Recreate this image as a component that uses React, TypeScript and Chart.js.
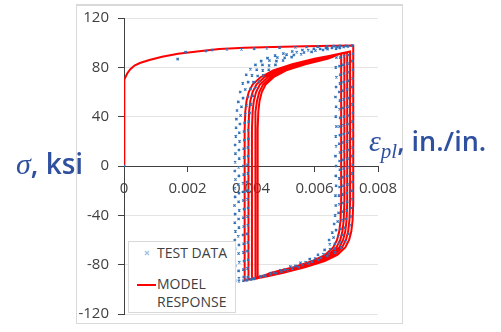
import React, { useEffect, useRef } from 'react';
import { Chart, registerables } from 'chart.js';
Chart.register(...registerables);

type P = [number, number];

// ---- axes ----
const xTicks = [0, 0.002, 0.004, 0.006, 0.008];
const yTicks = [120, 80, 40, 0, -40, -80, -120];
const yLabel = 'σ';
const yUnit = ', ksi';
const xLabel = 'ε';
const xSub = 'pl';
const xUnit = ', in./in.';
const legendTest = 'TEST DATA';
const legendModel = ['MODEL', 'RESPONSE'];

// ---- model response (red line), plastic strain vs stress ----
const modelMonotonic: P[] = [
  [0, 0], [0, 30], [0, 64], [0.00003, 70], [0.0001, 75], [0.0002, 78.5], [0.00033, 81.5],
  [0.0005, 83.5], [0.0008, 86], [0.0012, 88.5], [0.0017, 91], [0.0023, 92.8], [0.003, 94.8],
  [0.0038, 95.8], [0.0047, 96.5], [0.0057, 97], [0.0066, 97.4], [0.00722, 97.6],
];
const modelComp1: P[] = [
  [0.00722, -30], [0.0072, -44], [0.00716, -53], [0.00709, -60], [0.00697, -66], [0.00672, -72],
  [0.00632, -77], [0.00572, -82], [0.00502, -86.5], [0.00452, -89.5], [0.0041, -91.5], [0.0038, -92.5],
];
const modelTens1: P[] = [
  [0.0038, 30], [0.00382, 44], [0.00386, 53], [0.00393, 60], [0.00405, 66], [0.0043, 72],
  [0.0047, 77.5], [0.0053, 82.5], [0.006, 87], [0.0065, 89.5], [0.00712, 92.8],
];
const modelComp2: P[] = [
  [0.00712, -30], [0.0071, -44], [0.00706, -53], [0.00699, -60], [0.00687, -66], [0.00662, -72],
  [0.00622, -77], [0.00562, -82], [0.00492, -86.5], [0.00442, -89.5], [0.00392, -92],
];
const modelTens2: P[] = [
  [0.00392, 30], [0.00394, 44], [0.00398, 53], [0.00405, 60], [0.00417, 66], [0.00442, 72],
  [0.00482, 77.5], [0.00542, 82.5], [0.00612, 87], [0.00662, 89.8], [0.00703, 92.3],
];
const modelComp3: P[] = [
  [0.00703, -30], [0.00701, -44], [0.00697, -53], [0.0069, -60], [0.00678, -66], [0.00653, -72],
  [0.00613, -77], [0.00553, -82], [0.00483, -86.5], [0.00433, -89.5], [0.00403, -91.5],
];
const modelTens3: P[] = [
  [0.00403, 30], [0.00405, 44], [0.00409, 53], [0.00416, 60], [0.00428, 66], [0.00453, 72],
  [0.00493, 77.5], [0.00553, 82.5], [0.00623, 87], [0.00663, 89.5], [0.00694, 91.8],
];
const modelComp4: P[] = [
  [0.00694, -30], [0.00692, -44], [0.00688, -53], [0.00681, -60], [0.00669, -66], [0.00644, -72],
  [0.00604, -77], [0.00544, -82], [0.00474, -86.5], [0.00434, -89.5], [0.00413, -91.2],
];
const modelTens4: P[] = [
  [0.00413, 30], [0.00415, 44], [0.00419, 53], [0.00426, 60], [0.00438, 66], [0.00463, 72],
  [0.00503, 77.5], [0.00563, 82.5], [0.00633, 87], [0.0066, 89], [0.00684, 91.3],
];
const modelComp5: P[] = [
  [0.00684, -30], [0.00682, -44], [0.00678, -53], [0.00671, -60], [0.00659, -66], [0.00634, -72],
  [0.00594, -77], [0.00534, -82], [0.00464, -86.5], [0.0044, -89], [0.00421, -91],
];
const modelTens5: P[] = [
  [0.00421, 30], [0.00423, 44], [0.00427, 53], [0.00434, 60], [0.00446, 66], [0.00471, 72],
  [0.00511, 77.5], [0.00571, 82.5], [0.00641, 87], [0.0066, 88.8], [0.00675, 91],
];

// ---- test data (blue markers) ----
const testMonotonic: P[] = [
  [0, 0], [0.00169, 86.7], [0.00194, 92.3], [0.00258, 93.2], [0.00277, 94], [0.00324, 94.7],
  [0.0037, 94.7], [0.0041, 95.2], [0.0045, 95.5], [0.0049, 96], [0.0054, 96.3], [0.00575, 96.5],
  [0.0061, 96.8], [0.0064, 97], [0.0066, 97.2], [0.0068, 97.4], [0.007, 97.5], [0.00718, 97.6],
];
const testComp1: P[] = [
  [0.00721, 91], [0.00719, 85], [0.00721, 78], [0.0072, 71], [0.00718, 64], [0.0072, 57], [0.00719, 50],
  [0.00721, 43], [0.00719, 36], [0.0072, 29], [0.00718, 22], [0.0072, 15], [0.00719, 8], [0.0072, 1],
  [0.00718, -6], [0.00719, -13], [0.00717, -20], [0.00718, -27], [0.00716, -34], [0.00715, -41],
  [0.00712, -48], [0.00707, -55], [0.00698, -61], [0.00684, -66], [0.00665, -70], [0.0064, -73],
  [0.00612, -76], [0.00582, -79], [0.0055, -82], [0.00515, -84.5], [0.0048, -87], [0.00445, -89],
  [0.00412, -91], [0.00385, -92.5], [0.00362, -93.5], [0.0035, -93],
];
const testTens1: P[] = [
  [0.00349, -88], [0.0035, -81], [0.00348, -74], [0.0035, -67], [0.00349, -60], [0.00351, -53],
  [0.00349, -46], [0.0035, -39], [0.00348, -32], [0.0035, -25], [0.00349, -18], [0.00351, -11],
  [0.00349, -4], [0.0035, 3], [0.00351, 10], [0.0035, 17], [0.00352, 24], [0.00353, 31], [0.00354, 38],
  [0.00356, 45], [0.0036, 52], [0.00366, 60], [0.00374, 67], [0.00385, 74], [0.00398, 78.5],
  [0.00414, 82], [0.00432, 85], [0.00452, 87.5], [0.00476, 89.5], [0.00502, 91.2], [0.0053, 92.8],
  [0.00562, 94], [0.00598, 95], [0.00636, 95.8], [0.00672, 96.4], [0.00705, 96.9],
];
const testComp2: P[] = [
  [0.00706, 90], [0.00704, 83], [0.00706, 76], [0.00705, 69], [0.00703, 62], [0.00705, 55],
  [0.00704, 48], [0.00706, 41], [0.00704, 34], [0.00705, 27], [0.00703, 20], [0.00705, 13],
  [0.00704, 6], [0.00705, -1], [0.00703, -8], [0.00704, -15], [0.00702, -22], [0.00703, -29],
  [0.00701, -36], [0.00699, -43], [0.00695, -50], [0.00689, -56], [0.00679, -62], [0.00664, -67],
  [0.00645, -71], [0.0062, -74.5], [0.00592, -77.5], [0.00562, -80.5], [0.0053, -83], [0.00496, -85.5],
  [0.00462, -88], [0.0043, -90], [0.004, -92], [0.00376, -93], [0.00362, -91],
];
const testTens2: P[] = [
  [0.00361, -85], [0.00363, -78], [0.00361, -71], [0.00362, -64], [0.0036, -57], [0.00362, -50],
  [0.00361, -43], [0.00363, -36], [0.00361, -29], [0.00362, -22], [0.0036, -15], [0.00362, -8],
  [0.00361, -1], [0.00363, 6], [0.00362, 13], [0.00364, 20], [0.00363, 27], [0.00365, 34],
  [0.00367, 41], [0.0037, 48], [0.00375, 55], [0.00382, 62], [0.00391, 68], [0.00403, 73.5],
  [0.00418, 78], [0.00436, 82], [0.00458, 85.5], [0.00483, 88], [0.00512, 90.3], [0.00544, 92.2],
  [0.0058, 93.8], [0.00618, 95], [0.00655, 95.8], [0.00692, 96.5],
];
const testComp3: P[] = [
  [0.00693, 89], [0.00691, 82], [0.00693, 75], [0.00692, 68], [0.0069, 61], [0.00692, 54],
  [0.00691, 47], [0.00693, 40], [0.00691, 33], [0.00692, 26], [0.0069, 19], [0.00692, 12],
  [0.00691, 5], [0.00692, -2], [0.0069, -9], [0.00691, -16], [0.00689, -23], [0.0069, -30],
  [0.00688, -37], [0.00686, -44], [0.00682, -51], [0.00675, -57], [0.00664, -63], [0.00649, -67.5],
  [0.00628, -71.5], [0.00602, -75], [0.00572, -78], [0.0054, -81], [0.00506, -84], [0.00472, -86.5],
  [0.0044, -89], [0.0041, -91.5], [0.00388, -92.5], [0.00377, -90],
];
const testTens3: P[] = [
  [0.00376, -84], [0.00378, -77], [0.00376, -70], [0.00377, -63], [0.00375, -56], [0.00377, -49],
  [0.00376, -42], [0.00378, -35], [0.00376, -28], [0.00377, -21], [0.00375, -14], [0.00377, -7],
  [0.00376, 0], [0.00378, 7], [0.00377, 14], [0.00379, 21], [0.00378, 28], [0.0038, 35],
  [0.00382, 42], [0.00386, 49], [0.00391, 56], [0.00398, 62.5], [0.00408, 68], [0.00421, 73],
  [0.00437, 77.5], [0.00457, 81.5], [0.0048, 85], [0.00506, 87.8], [0.00535, 90], [0.00567, 92],
  [0.00603, 93.6], [0.00641, 94.8], [0.0068, 95.8],
];
const testComp4: P[] = [
  [0.00681, 88], [0.00679, 81], [0.00681, 74], [0.0068, 67], [0.00678, 60], [0.0068, 53],
  [0.00679, 46], [0.00681, 39], [0.00679, 32], [0.0068, 25], [0.00678, 18], [0.0068, 11],
  [0.00679, 4], [0.0068, -3], [0.00678, -10], [0.00679, -17], [0.00677, -24], [0.00678, -31],
  [0.00676, -38], [0.00673, -45], [0.00668, -52], [0.0066, -58], [0.00648, -63.5], [0.00632, -68],
  [0.00611, -72], [0.00585, -75.5], [0.00556, -78.5], [0.00524, -81.5], [0.00492, -84.5],
  [0.0046, -87], [0.0043, -89.5], [0.00404, -91.5], [0.0039, -90],
];
const testTens4: P[] = [
  [0.00389, -83], [0.00391, -76], [0.00389, -69], [0.0039, -62], [0.00388, -55], [0.0039, -48],
  [0.00389, -41], [0.00391, -34], [0.00389, -27], [0.0039, -20], [0.00388, -13], [0.0039, -6],
  [0.00389, 1], [0.00391, 8], [0.0039, 15], [0.00392, 22], [0.00391, 29], [0.00393, 36],
  [0.00396, 43], [0.004, 50], [0.00406, 57], [0.00414, 63], [0.00425, 68.5], [0.00439, 73.5],
  [0.00456, 78], [0.00477, 82], [0.00501, 85.5], [0.00528, 88.3], [0.00558, 90.6], [0.00591, 92.5],
  [0.00627, 94], [0.00668, 95.2],
];
const testComp5: P[] = [
  [0.00669, 88], [0.00667, 80], [0.00669, 72], [0.00668, 64], [0.00666, 56], [0.00668, 48],
  [0.00667, 40], [0.00669, 32], [0.00667, 24], [0.00668, 16], [0.00666, 8], [0.00668, 0],
  [0.00667, -8], [0.00668, -16], [0.00666, -24], [0.00667, -32], [0.00665, -40], [0.00662, -47],
  [0.00656, -54], [0.00646, -60],
];

const modelSeries: P[][] = [
  modelMonotonic, modelComp1, modelTens1, modelComp2, modelTens2, modelComp3, modelTens3,
  modelComp4, modelTens4, modelComp5, modelTens5,
];
const testSeries: P[][] = [
  testMonotonic, testComp1, testTens1, testComp2, testTens2, testComp3, testTens3,
  testComp4, testTens4, testComp5,
];

const toXY = (parts: P[][]) => parts.flat().map(([x, y]) => ({ x, y }));

const TICK_FONT = { family: "'Open Sans', sans-serif", size: 15 };
const TEXT_COLOR = '#404040';
const AXIS_COLOR = '#404040';
const BLUE_TEXT = '#2F4F9F';

export default function App() {
  const canvasRef = useRef<HTMLCanvasElement | null>(null);

  useEffect(() => {
    const canvas = canvasRef.current;
    if (!canvas) return;
    const chart = new Chart(canvas, {
      type: 'scatter',
      data: {
        datasets: [
          {
            label: legendTest,
            data: toXY(testSeries),
            showLine: false,
            pointStyle: 'crossRot',
            pointRadius: 1.6,
            pointBorderWidth: 1.2,
            borderColor: '#3070B8',
            backgroundColor: '#3070B8',
          },
          {
            label: legendModel.join(' '),
            data: toXY(modelSeries),
            showLine: true,
            pointRadius: 0,
            borderColor: '#FF0000',
            borderWidth: 2,
            tension: 0,
            fill: false,
          },
        ],
      },
      options: {
        responsive: false,
        animation: false,
        devicePixelRatio: 1,
        layout: { padding: { left: 74, right: 123, top: 15, bottom: 17 } },
        plugins: { legend: { display: false }, tooltip: { enabled: false } },
        scales: {
          x: {
            type: 'linear',
            min: 0,
            max: 0.008,
            position: { y: 0 } as any,
            afterBuildTicks: (s: any) => {
              s.ticks = xTicks.map((v) => ({ value: v }));
            },
            ticks: {
              font: TICK_FONT,
              color: TEXT_COLOR,
              padding: 9,
              maxRotation: 0,
              autoSkip: false,
              callback: (v: any) => (Number(v) === 0 ? '0' : Number(v).toFixed(3)),
            },
            grid: {
              drawOnChartArea: false,
              drawTicks: true,
              tickLength: 5,
              tickColor: AXIS_COLOR,
            },
            border: { display: true, color: AXIS_COLOR, width: 1 },
          },
          y: {
            type: 'linear',
            min: -120,
            max: 120,
            afterBuildTicks: (s: any) => {
              s.ticks = yTicks.map((v) => ({ value: v }));
            },
            afterFit: (s: any) => {
              s.width = 50;
            },
            ticks: {
              font: TICK_FONT,
              color: TEXT_COLOR,
              padding: 9,
              autoSkip: false,
              callback: (v: any) => String(v),
            },
            grid: {
              color: '#E4E4E4',
              lineWidth: 1,
              drawTicks: true,
              tickLength: 6,
              tickColor: AXIS_COLOR,
            },
            border: { display: true, color: AXIS_COLOR, width: 1 },
          },
        },
      },
    });
    return () => chart.destroy();
  }, []);

  return (
    <div style={{ position: 'absolute', left: 0, top: 0, width: 501, height: 332, background: '#fff', overflow: 'hidden' }}>
      <div
        style={{
          position: 'absolute', left: 76, top: 4, width: 327, height: 320,
          border: '1px solid #D9D9D9', borderTop: '2px solid #D9D9D9', boxSizing: 'border-box',
        }}
      />
      <canvas ref={canvasRef} width={501} height={332} style={{ position: 'absolute', left: 0, top: 0, width: 501, height: 332 }} />
      {/* legend */}
      <div
        style={{
          position: 'absolute', left: 128, top: 241, width: 108, height: 72, background: '#fff',
          border: '1px solid #D9D9D9', boxSizing: 'border-box',
          fontFamily: "'Open Sans', sans-serif", fontSize: 14, color: TEXT_COLOR,
        }}
      >
        <svg style={{ position: 'absolute', left: 15, top: 8 }} width={6} height={6}>
          <line x1={1} y1={1} x2={5} y2={5} stroke="#9DC3E6" strokeWidth={1.2} />
          <line x1={5} y1={1} x2={1} y2={5} stroke="#9DC3E6" strokeWidth={1.2} />
        </svg>
        <div style={{ position: 'absolute', left: 28, top: 1, lineHeight: '20px', whiteSpace: 'nowrap' }}>{legendTest}</div>
        <div style={{ position: 'absolute', left: 8, top: 42, width: 19, height: 2, background: '#FF0000' }} />
        <div style={{ position: 'absolute', left: 28, top: 33, lineHeight: '18px', whiteSpace: 'nowrap' }}>
          {legendModel[0]}
          <br />
          {legendModel[1]}
        </div>
      </div>
      {/* axis titles */}
      <div
        style={{
          position: 'absolute', left: 16, top: 148, lineHeight: '30px', whiteSpace: 'nowrap',
          color: BLUE_TEXT, fontFamily: "'Open Sans', sans-serif", fontSize: 28, fontWeight: 600,
        }}
      >
        <span style={{ fontFamily: "'Liberation Serif', serif", fontStyle: 'italic', fontWeight: 400, fontSize: 30 }}>{yLabel}</span>
        {yUnit}
      </div>
      <div
        style={{
          position: 'absolute', left: 369, top: 126, lineHeight: '30px', whiteSpace: 'nowrap',
          color: BLUE_TEXT, fontFamily: "'Open Sans', sans-serif", fontSize: 27, fontWeight: 600,
        }}
      >
        <span style={{ fontFamily: "'Liberation Serif', serif", fontStyle: 'italic', fontWeight: 400, fontSize: 30 }}>{xLabel}</span>
        <span style={{ fontFamily: "'Liberation Serif', serif", fontStyle: 'italic', fontWeight: 400, fontSize: 21, position: 'relative', top: 7 }}>{xSub}</span>
        {xUnit}
      </div>
    </div>
  );
}
